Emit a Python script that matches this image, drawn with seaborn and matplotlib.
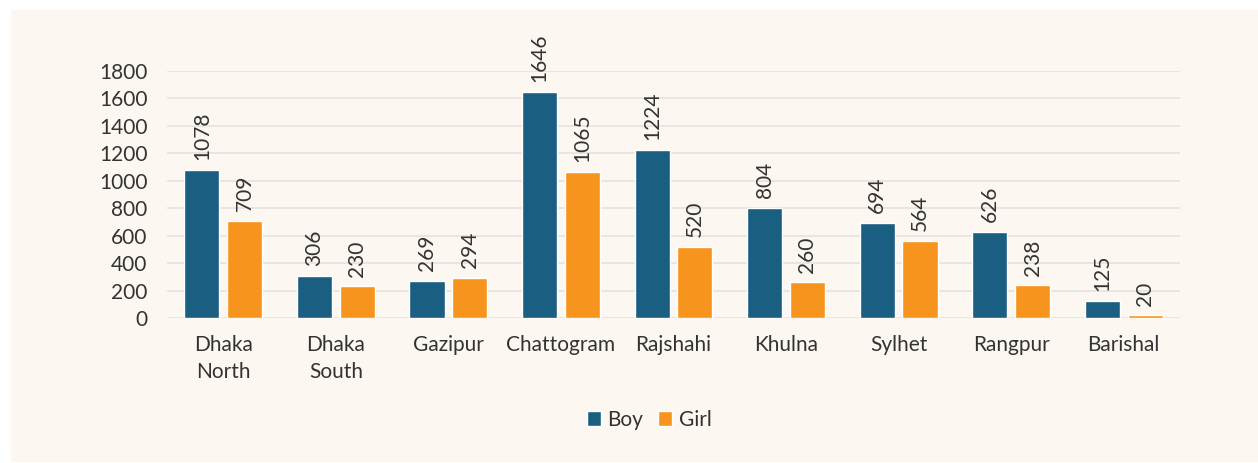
import matplotlib
matplotlib.use("Agg")
import matplotlib.pyplot as plt
import seaborn as sns
import pandas as pd
import numpy as np
from matplotlib.patches import Rectangle, Patch

regions = ["Dhaka\nNorth", "Dhaka\nSouth", "Gazipur", "Chattogram", "Rajshahi",
           "Khulna", "Sylhet", "Rangpur", "Barishal"]
boy = [1078, 306, 269, 1646, 1224, 804, 694, 626, 125]
girl = [709, 230, 294, 1065, 520, 260, 564, 238, 20]
yticks = [0, 200, 400, 600, 800, 1000, 1200, 1400, 1600, 1800]

BOY_C = "#1A5E82"
GIRL_C = "#F7941D"
BG = "#FCF8F1"
TXT = "#333333"
FS = 15

sns.set_theme(style="white")
plt.rcParams['font.family'] = ['Lato', 'DejaVu Sans']

df = pd.DataFrame({"Region": regions * 2,
                   "Count": boy + girl,
                   "Gender": ["Boy"] * len(boy) + ["Girl"] * len(girl)})

fig = plt.figure(figsize=(12.58, 4.63), dpi=100, facecolor="white")
fig.patches.append(Rectangle((11 / 1258, 1 / 463), 1247 / 1258, 452 / 463,
                             transform=fig.transFigure, facecolor=BG,
                             edgecolor="none", zorder=-10))
ax = fig.add_axes([167 / 1258, 1 - 318 / 463, (1180 - 167) / 1258, 247.3 / 463])
ax.set_facecolor("none")

sns.barplot(data=df, x="Region", y="Count", hue="Gender",
            palette={"Boy": BOY_C, "Girl": GIRL_C}, ax=ax,
            width=0.76, gap=0.18, legend=False, saturation=1)

for cont in ax.containers:
    ax.bar_label(cont, rotation=90, padding=7, fontsize=FS, color=TXT)

ax.set_ylim(0, 1800)
ax.set_xlim(-0.5, len(regions) - 0.5)
ax.set_yticks(yticks)
ax.set_yticklabels([str(v) for v in yticks], fontsize=FS, color=TXT)
ax.tick_params(axis="y", length=0, pad=14)
ax.tick_params(axis="x", length=0, pad=12, labelsize=FS, labelcolor=TXT)
for lab in ax.get_xticklabels():
    lab.set_linespacing(1.45)
ax.set_xlabel("")
ax.set_ylabel("")
ax.yaxis.grid(True, color="#E6E4E1", linewidth=1.3)
ax.set_axisbelow(True)
for s in ax.spines.values():
    s.set_visible(False)

handles = [Patch(facecolor=BOY_C, label="Boy"), Patch(facecolor=GIRL_C, label="Girl")]
fig.legend(handles=handles, loc="center", bbox_to_anchor=(649 / 1258, 1 - 420 / 463),
           ncol=2, frameon=False, handlelength=0.7, handleheight=0.7,
           handletextpad=0.3, columnspacing=0.7, labelcolor=TXT,
           prop={"size": FS})

fig.savefig("out.png", dpi=100, facecolor="white")
